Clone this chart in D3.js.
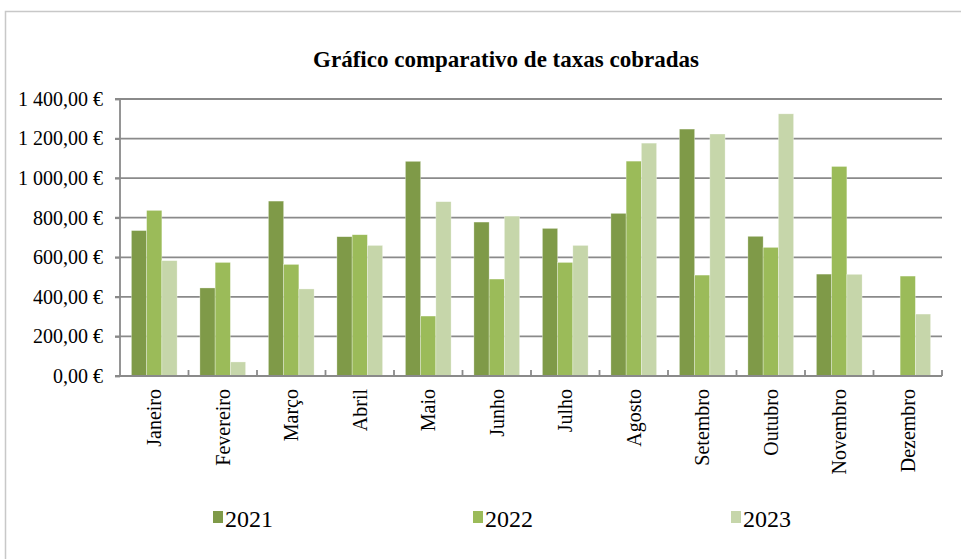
<!DOCTYPE html>
<html><head><meta charset="utf-8">
<script src="https://cdn.jsdelivr.net/npm/d3@7"></script>
<style>body{margin:0;background:#fff}svg{display:block}text{font-family:"Liberation Serif","Times New Roman",serif;fill:#000}</style>
</head><body><svg id="c" width="961" height="559"></svg>
<script>
const months = ["Janeiro","Fevereiro","Março","Abril","Maio","Junho","Julho","Agosto","Setembro","Outubro","Novembro","Dezembro"];
const seriesNames = ["2021","2022","2023"];
const v2021 = [735,445,884,704,1085,778,746,822,1248,706,515,0];
const v2022 = [837,574,564,714,303,490,574,1086,510,650,1059,505];
const v2023 = [583,71,440,660,881,808,660,1177,1223,1325,514,313];
const yTicks = [0,200,400,600,800,1000,1200,1400];
const colors = ["#7f9a48","#9bbb59","#c6d6aa"];
const title = "Gráfico comparativo de taxas cobradas";

const series = [v2021,v2022,v2023];
const svg = d3.select("#c");
const L=120,R=942,T=99,B=376;
svg.append("rect").attr("x",5.5).attr("y",11.5).attr("width",1100).attr("height",700).attr("fill","#fff").attr("stroke","#c8c8c8").attr("stroke-width",1.5);

const x = d3.scaleBand().domain(months).range([L,R]).paddingInner(0.333).paddingOuter(0.1665);
const xs = d3.scaleBand().domain(seriesNames).range([0,x.bandwidth()]);
const y = d3.scaleLinear().domain([0,1400]).range([B,T]);
const fmt = v => { const s = v.toFixed(2).replace(".",","); const [i,d]=s.split(","); return i.replace(/\B(?=(\d{3})+(?!\d))/g,"\u00a0")+","+d+"\u00a0€"; };

// gridlines
svg.append("g").selectAll("line").data(yTicks.filter(t=>t>0)).join("line")
 .attr("x1",L-5).attr("x2",R).attr("y1",d=>y(d)).attr("y2",d=>y(d))
 .attr("stroke","#8a8a8a").attr("stroke-width",1.8);

// bars
const g = svg.append("g");
seriesNames.forEach((s,si)=>{
  g.append("g").selectAll("rect").data(months.map((m,i)=>({m,v:series[si][i]})).filter(d=>d.v>0)).join("rect")
   .attr("x",d=>x(d.m)+xs(s)).attr("width",xs.bandwidth())
   .attr("y",d=>y(d.v)).attr("height",d=>B-y(d.v))
   .attr("fill",colors[si]).attr("stroke","rgba(255,255,255,0.5)").attr("stroke-width",0.6);
});

// y axis
const ya = svg.append("g").attr("transform",`translate(${L},0)`).call(d3.axisLeft(y).tickValues(yTicks).tickFormat(fmt).tickSize(5).tickPadding(12));
ya.select(".domain").attr("stroke","#8a8a8a").attr("stroke-width",1.8).attr("d",`M-5,${T}H0V${B}H-5`);
ya.selectAll(".tick line").attr("stroke","#8a8a8a").attr("stroke-width",1.8);
ya.selectAll("text").attr("font-size",20).attr("font-family","Liberation Serif").attr("fill","#000");

// x axis
svg.append("line").attr("x1",L-5).attr("x2",R).attr("y1",B).attr("y2",B).attr("stroke","#8a8a8a").attr("stroke-width",1.8);
const step = x.step();
svg.append("g").selectAll("line").data(d3.range(1,13)).join("line")
 .attr("x1",d=>L+d*step).attr("x2",d=>L+d*step).attr("y1",B-6).attr("y2",B)
 .attr("stroke","#8a8a8a").attr("stroke-width",1.8);
svg.append("g").selectAll("text").data(months).join("text")
 .attr("transform",d=>`translate(${x(d)+x.bandwidth()/2},389) rotate(-90)`)
 .attr("text-anchor","end").attr("dy","0.34em").attr("font-size",20).text(d=>d);

// title
svg.append("text").attr("x",506).attr("y",67).attr("text-anchor","middle").attr("font-size",23).attr("font-weight","bold").text(title);

// legend
const lx=[213,473,731];
seriesNames.forEach((s,i)=>{
  svg.append("rect").attr("x",lx[i]).attr("y",511).attr("width",10).attr("height",12).attr("fill",colors[i]);
  svg.append("text").attr("x",lx[i]+12).attr("y",527).attr("font-size",24).text(s);
});
</script></body></html>
